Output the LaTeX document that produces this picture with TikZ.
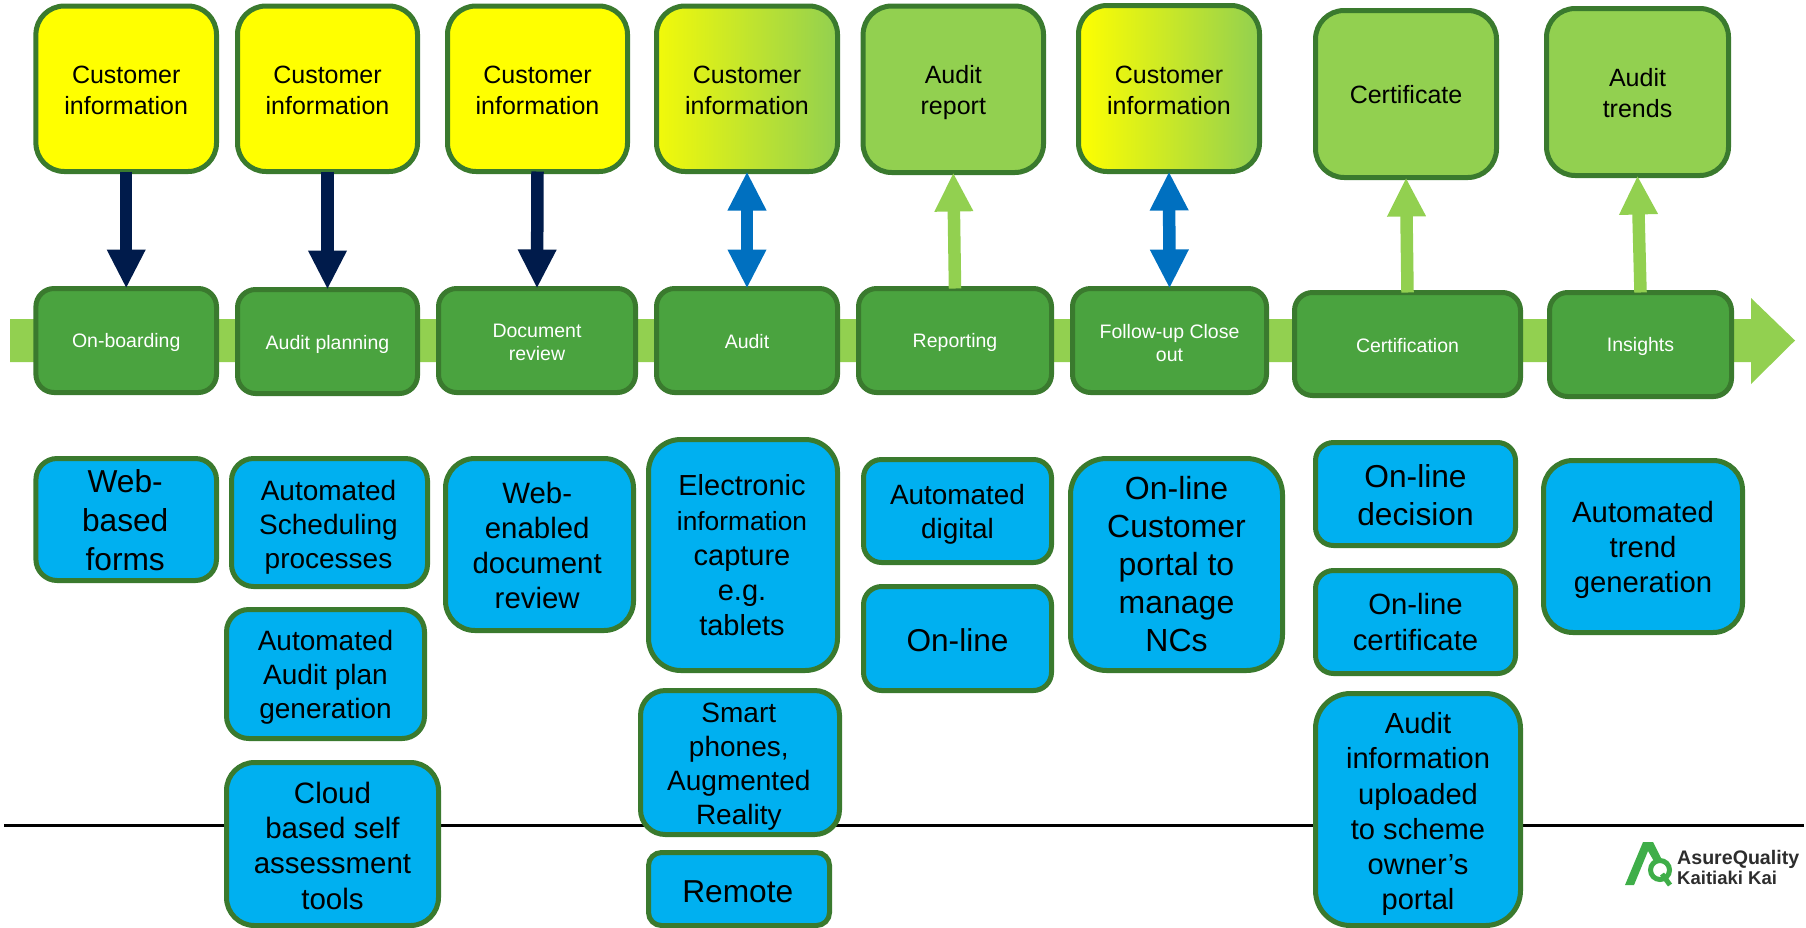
\documentclass[tikz,border=0pt]{standalone}
\usepackage{fontspec}
\setmainfont{Liberation Sans}
\usetikzlibrary{arrows.meta}
\definecolor{edgegreen}{HTML}{3A7A2E}
\definecolor{midgreen}{HTML}{4AA33F}
\definecolor{lightgreen}{HTML}{92D050}
\definecolor{skyfill}{HTML}{00B0F0}
\definecolor{navyarrow}{HTML}{001B4B}
\definecolor{bluearrow}{HTML}{0070C0}
\definecolor{logogreen}{HTML}{3FAE49}
\definecolor{logotext}{HTML}{2D2D2D}
\definecolor{pureyellow}{RGB}{255,255,0}
\tikzset{
  fs/.style n args={2}{font=\fontsize{#1}{#2}\selectfont},
  boxbase/.style={draw=edgegreen,line width=5pt,inner sep=0pt,outer sep=0pt},
  yellowbox/.style={boxbase,fill=pureyellow},
  gradbox/.style={boxbase,left color=#1,right color=lightgreen},
  greenbox/.style={boxbase,fill=lightgreen},
  stagebox/.style={boxbase,fill=midgreen},
  toolbox/.style={boxbase,fill=skyfill},
  txt/.style={inner sep=0pt,align=center,text=black},
  toptxt/.style={txt,fs={25}{31}},
  stagetxt/.style={txt,text=white,fs={19.5}{23}},
  flowdown/.style={line width=12.5pt,navyarrow,-{Triangle[length=39pt,width=36pt]}},
  flowup/.style={line width=12.5pt,lightgreen,-{Triangle[length=39pt,width=36pt]}},
  flowboth/.style={line width=12.5pt,bluearrow,{Triangle[length=39pt,width=36pt]}-{Triangle[length=39pt,width=36pt]}},
}
% name, x1, y1, x2, y2 (outer edges in px), box style, text style, text
\newcommand\bx[8]{%
  \pgfmathsetmacro\bxw{#4-#2}%
  \pgfmathsetmacro\bxh{#5-#3}%
  \pgfmathsetmacro\bxr{0.1667*min(\bxw,\bxh)}%
  \node[minimum width=\bxw pt-5pt,minimum height=\bxh pt-5pt,rounded corners=\bxr pt,#6]
    (#1) at ({(#2+#4)/2},{(#3+#5)/2}) {};%
  \node[#7] (#1-text) at (#1.center) {#8};%
}
\begin{document}
\begin{tikzpicture}[x=1pt,y=-1pt]
\useasboundingbox (0,0) rectangle (1806,927);
% divider and process band
\coordinate (ruleL) at (4,825.7);
\coordinate (ruleR) at (1804,825.7);
\draw[line width=2.6pt,black] (ruleL) -- (ruleR);
\fill[lightgreen] (10,319) -- (1751,319) -- (1751,298) -- (1795,340.5) -- (1751,384) -- (1751,362) -- (10,362) -- cycle;
% top row
\bx{t1}{33.4}{3.5}{219}{174}{yellowbox}{toptxt,yshift=-1.2pt}{Customer\\information}
\bx{t2}{235}{3.5}{420}{174}{yellowbox}{toptxt,yshift=-1.2pt}{Customer\\information}
\bx{t3}{445}{3.5}{630}{174}{yellowbox}{toptxt,yshift=-1.2pt}{Customer\\information}
\bx{t4}{654}{3.5}{840}{174}{gradbox=pureyellow!88!lightgreen}{toptxt,yshift=-1.2pt}{Customer\\information}
\bx{t5}{860.6}{3.5}{1046}{175}{greenbox}{toptxt,yshift=-3.2pt}{Audit\\report}
\bx{t6}{1076}{3}{1262}{174}{gradbox=pureyellow}{toptxt,yshift=-1.5pt}{Customer\\information}
\bx{t7}{1313}{8}{1499}{180}{greenbox}{toptxt,yshift=-0.2pt}{Certificate}
\bx{t8}{1544}{6}{1731}{178}{greenbox}{toptxt,yshift=-1.2pt}{Audit\\trends}
% stage row
\bx{m1}{33.4}{286}{219}{395}{stagebox}{stagetxt,yshift=-2.3pt}{On-boarding}
\bx{m2}{235}{287}{420}{396}{stagebox}{stagetxt,yshift=-2.8pt}{Audit planning}
\bx{m3}{436}{286}{638}{395}{stagebox}{stagetxt,yshift=-2.3pt}{Document\\review}
\bx{m4}{654}{286}{840}{395}{stagebox}{stagetxt,yshift=-1.2pt}{Audit}
\bx{m5}{856}{286}{1054}{395}{stagebox}{stagetxt,yshift=-2.3pt}{Reporting}
\bx{m6}{1070}{286}{1269}{395}{stagebox}{stagetxt,yshift=-2.3pt}{Follow-up Close\\out}
\bx{m7}{1292}{290}{1523}{398}{stagebox}{stagetxt,yshift=-1.2pt}{Certification}
\bx{m8}{1547}{290}{1734}{399}{stagebox}{stagetxt,yshift=-2.3pt}{Insights}
% connectors
\draw[flowdown] (t1.south) -- (m1.north);
\draw[flowdown] (t2.south) -- (m2.north);
\draw[flowdown] (t3.south) -- (m3.north);
\draw[flowboth] (t4.south) -- (m4.north);
\draw[flowup] (m5.north) -- (t5.south);
\draw[flowboth] (t6.south) -- (m6.north);
\draw[flowup] (m7.north) -- (t7.south);
\draw[flowup] (m8.north) -- (t8.south);
% tool boxes
\bx{b1}{33.4}{456}{219}{583}{toolbox}{txt,fs={31.7}{39},yshift=-0.2pt,xshift=-1pt}{Web-\\based\\forms}
\bx{b2}{229}{456}{430}{589}{toolbox}{txt,fs={28}{34},yshift=-4.4pt,xshift=-1pt}{Automated\\Scheduling\\processes}
\bx{b3}{224}{607}{427}{741}{toolbox}{txt,fs={28}{34},yshift=-3.2pt}{Automated\\Audit plan\\generation}
\bx{b4}{224}{760}{441}{928}{toolbox}{txt,fs={29.5}{35.2},yshift=-1.7pt}{Cloud\\based self\\assessment\\tools}
\bx{b5}{443}{456}{636}{633}{toolbox}{txt,fs={29.4}{35},yshift=-1.2pt,xshift=-2.3pt}{Web-\\enabled\\document\\review}
\bx{b6}{646}{437}{840}{673}{toolbox}{txt,fs={29}{35},xshift=-1pt}{Electronic\\{\fontsize{26.3}{35}\selectfont information}\\capture\\e.g.\\tablets}
\bx{b7}{638}{688}{842}{837}{toolbox}{txt,fs={28}{34},yshift=-3.7pt,xshift=-1.2pt}{Smart\\phones,\\Augmented\\Reality}
\bx{b8}{646}{850}{832}{928}{toolbox}{txt,fs={31.7}{38},yshift=-2.3pt,xshift=-1.2pt}{Remote}
\bx{b9}{861}{457}{1054}{565}{toolbox}{txt,fs={27.9}{33.5},yshift=-3.5pt}{Automated\\digital}
\bx{b10}{861}{584}{1054}{693}{toolbox}{txt,fs={31.6}{38},yshift=-1.2pt}{On-line}
\bx{b11}{1068}{456}{1285}{673}{toolbox}{txt,fs={32}{38}}{On-line\\Customer\\portal to\\manage\\NCs}
\bx{b12}{1313}{440}{1518}{548}{toolbox}{txt,fs={31.7}{38},yshift=-1.2pt}{On-line\\decision}
\bx{b13}{1313}{568}{1518}{676}{toolbox}{txt,fs={29.3}{36}}{On-line\\certificate}
\bx{b14}{1313}{691}{1523}{928}{toolbox}{txt,fs={29.1}{35.2},yshift=-4.7pt}{Audit\\information\\uploaded\\to scheme\\owner’s\\portal}
\bx{b15}{1541}{458}{1745}{635}{toolbox}{txt,fs={29.3}{35},yshift=-3pt}{Automated\\trend\\generation}
% logo
\fill[logogreen] (1625,885) -- (1643,842) -- (1653,842) -- (1663,862) -- (1655,863) -- (1648,851) -- (1634,885) -- cycle;
\draw[logogreen,line width=5pt] (1660,870) circle[radius=9.5];
\draw[logogreen,line width=5pt] (1662,874) -- (1670,885);
\node[anchor=base west,inner sep=0pt,text=logotext,font=\bfseries\fontsize{19.6}{20}\selectfont] (logoA) at (1677,864) {AsureQuality};
\node[anchor=base west,inner sep=0pt,text=logotext,font=\bfseries\fontsize{18.5}{20}\selectfont] (logoB) at (1677,884) {Kaitiaki Kai};
\end{tikzpicture}
\end{document}
